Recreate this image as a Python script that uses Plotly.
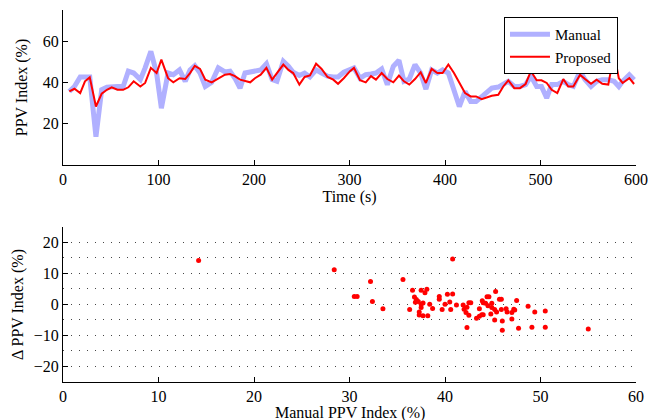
import plotly.graph_objects as go
from plotly.subplots import make_subplots

# --- Time series (top panel) ---
time_s = [6.6, 12, 18, 23, 28, 34.5, 40.5, 46, 51, 57, 63, 68.4, 74, 81, 86, 92, 98, 103, 110, 115.5,
          122, 128, 133, 138, 143.5, 149, 155.7, 162.6, 169.6, 174.9, 180, 185.4, 190.6, 196, 201, 207,
          213, 219, 224, 230.7, 236, 241, 247.5, 253, 258.6, 265, 270.8, 277, 283, 288, 294, 300.5,
          304.7, 311, 317, 322.5, 327.7, 333.7, 339.6, 345.9, 351.8, 357, 362.6, 368.6, 374.5, 380,
          386, 392, 397.5, 403.5, 409.4, 415, 421, 426.9, 432.5, 438.4, 444, 449, 455.8, 461, 466.3,
          472.6, 478.5, 484.4, 490, 496, 501, 506.5, 511.7, 517.6, 523.9, 529, 534.4, 541.4, 546.6,
          552.9, 558.8, 564.7, 571, 577, 582, 586, 593, 598]
manual_ppv = [35.6, 38, 42.6, 42.6, 42.6, 13.7, 36.4, 37.6, 38, 38, 38, 45.4, 44.5, 41.3, 47, 55, 44.5, 27.5, 44.5, 43.7,
              46, 40.5, 46, 48, 44.5, 38, 40, 47, 45, 45.4, 42, 37.2, 44.5, 45, 45.4, 46,
              49, 41.3, 40.5, 50.2, 47.8, 44.9, 43.3, 44.5, 42.6, 46, 44.5, 43, 42.6, 42.6, 44.9, 46.5,
              47, 42, 43.7, 44, 44.5, 46.5, 38.9, 47.8, 50.7, 40.5, 41.6, 48.6, 44.5, 36.7,
              46, 44.5, 46, 44.5, 36.4, 28.3, 35.6, 30.7, 30.7, 33.2, 35, 37.2, 37.7, 38.9, 40.5,
              38, 38, 38.9, 43, 38, 38, 32.4, 38.9, 38.9, 40.5, 38.9, 38, 45.4, 41.3,
              38, 40.5, 41.3, 41.3, 40.5, 38, 40.5, 43.7, 41.3]
proposed_ppv = [35.6, 36.9, 34.8, 40.5, 42.4, 28.3, 34.5, 36.4, 37.6, 36.4, 36.4, 37.6, 40.5, 38, 39.7, 47, 44.5, 51, 42, 40,
                42, 41.6, 44.5, 48, 46.5, 41.3, 40, 42, 43.7, 44, 43, 41.3, 40.5, 40, 42, 43.7,
                47, 41.3, 44.5, 48.6, 46, 44.5, 38.9, 42.6, 43.3, 49, 46.5, 42.6, 41.3, 39.3, 42, 45.4,
                47, 41, 40, 43, 41.3, 44.5, 41.6, 40, 43.3, 40.5, 38.9, 41.6, 44.9, 39.7,
                46.5, 44.5, 44.5, 48.6, 44.5, 39.7, 34.8, 33.2, 33.2, 31.9, 32.8, 33.5, 34, 38, 41,
                37.2, 37.2, 39.2, 45.4, 41, 41, 39.7, 36.4, 34.8, 41.6, 38, 38, 43.7, 41.6,
                39.3, 41.3, 39.3, 38.9, 54, 42, 39.7, 42, 39.2]

# --- Scatter (bottom panel) ---
scatter_manual = [14.2, 28.4, 30.5, 30.8, 32.2, 32.4, 33.5, 35.6, 36.3, 36.6, 36.8, 37.0, 37.2, 36.9, 37.5,
                  37.5, 37.5, 37.7, 37.9, 38.1, 37.3, 37.3, 37.7, 38.2, 38.4, 38.7, 39.4, 39.4, 39.7, 40.0,
                  40.25, 40.5, 40.6, 40.8, 40.8, 41.2, 41.9, 42.0, 42.2, 42.3, 42.5, 42.7, 42.3, 42.5, 43.3,
                  43.6, 43.85, 44.0, 44.0, 44.25, 44.4, 44.6, 44.5, 44.8, 44.9, 44.9, 45.2, 45.3, 45.4, 45.2,
                  45.7, 45.9, 45.9, 46.0, 46.0, 46.4, 46.5, 47.0, 47.2, 47.0, 47.3, 47.5, 47.7, 48.7, 49.1,
                  49.4, 50.5, 50.5, 55.0, 43.9, 43.6]
scatter_delta = [14.2, 11.2, 2.6, 2.6, 7.4, 1.0, -1.4, 8.1, -1.6, 4.6, 2.4, 1.6, 1.0, 0.7, 4.6,
                 0.1, -1.0, 0.5, 3.8, 4.9, -2.4, -3.4, -3.6, -3.6, 0.1, -1.3, 2.6, 1.7, -1.6, 0.1,
                 3.3, 0.8, -1.6, 3.4, 14.7, -0.2, -0.2, -1.5, -2.6, -7.4, 0.6, 0.6, -0.9, -3.5, -4.4,
                 -3.8, -3.3, -3.3, 0.6, 0.4, 2.5, 2.5, -0.4, -3.1, -1.0, 0.4, -1.6, 4.2, -2.4, -5.0,
                 1.7, 1.7, -1.6, -5.3, -8.3, -1.4, -2.4, -2.6, -1.5, -4.7, -1.8, 1.3, -7.7, -0.6, -7.3,
                 -2.4, -2.1, -7.3, -7.9, 1.2, -1.4]

FONT = "Liberation Serif"
TICKFONT = dict(family=FONT, size=16, color="black")
TITLEFONT = dict(family=FONT, size=16, color="black")
GRIDDASH = "1px,7px"

fig = make_subplots(rows=2, cols=1, vertical_spacing=0.1667)

fig.add_trace(go.Scatter(x=time_s, y=manual_ppv, mode="lines", name="Manual",
                         line=dict(color="rgb(176,176,255)", width=5)), row=1, col=1)
fig.add_trace(go.Scatter(x=time_s, y=proposed_ppv, mode="lines", name="Proposed",
                         line=dict(color="#ff0000", width=2)), row=1, col=1)
fig.add_trace(go.Scatter(x=scatter_manual, y=scatter_delta, mode="markers", showlegend=False,
                         marker=dict(color="#ff0000", size=5)), row=2, col=1)

axis_common = dict(showline=True, linecolor="black", linewidth=1, ticks="inside", ticklen=5,
                   tickcolor="black", mirror=False, zeroline=False, showgrid=False,
                   automargin=False, tickfont=TICKFONT)

fig.update_xaxes(**axis_common)
fig.update_yaxes(**axis_common)

fig.update_xaxes(range=[0, 600], tickvals=[0, 100, 200, 300, 400, 500, 600],
                 title=dict(text="Time (s)", font=TITLEFONT, standoff=2),
                 domain=[0, 1], row=1, col=1)
fig.update_yaxes(range=[0, 75], tickvals=[20, 40, 60],
                 title=dict(text="PPV Index (%)", font=TITLEFONT, standoff=11),
                 domain=[0.5833, 1.0], row=1, col=1)
fig.update_xaxes(range=[0, 60], tickvals=[0, 10, 20, 30, 40, 50, 60],
                 domain=[0, 1], row=2, col=1)
fig.update_yaxes(range=[-25, 25], tickvals=[-20, -10, 0, 10, 20],
                 ticktext=["\u221220", "\u221210", "0", "10", "20"],
                 showgrid=True, gridcolor="rgb(70,70,70)", griddash=GRIDDASH, gridwidth=1,
                 minor=dict(dtick=5, tick0=0, showgrid=True, gridcolor="rgb(70,70,70)",
                            griddash=GRIDDASH, gridwidth=1),
                 title=dict(text="\u0394 PPV Index (%)", font=TITLEFONT, standoff=6),
                 domain=[0.0, 0.4167], row=2, col=1)

fig.add_annotation(text="Manual PPV Index (%)", xref="paper", yref="paper",
                   x=0.5, y=-0.057, xanchor="center", yanchor="top", showarrow=False,
                   font=TITLEFONT, borderpad=0)

fig.update_layout(
    width=648, height=420,
    margin=dict(l=63, r=12, t=10, b=38),
    paper_bgcolor="white", plot_bgcolor="white",
    font=dict(family=FONT, size=16, color="black"),
    legend=dict(x=0.7696, y=0.981, xanchor="left", yanchor="top",
                bgcolor="white", bordercolor="black", borderwidth=1,
                font=dict(family=FONT, size=15, color="black"),
                tracegroupgap=0, itemwidth=40),
)

fig.write_html("out.html", config={"displayModeBar": False},
               post_script="document.body.style.margin='0';document.body.style.padding='0';")
